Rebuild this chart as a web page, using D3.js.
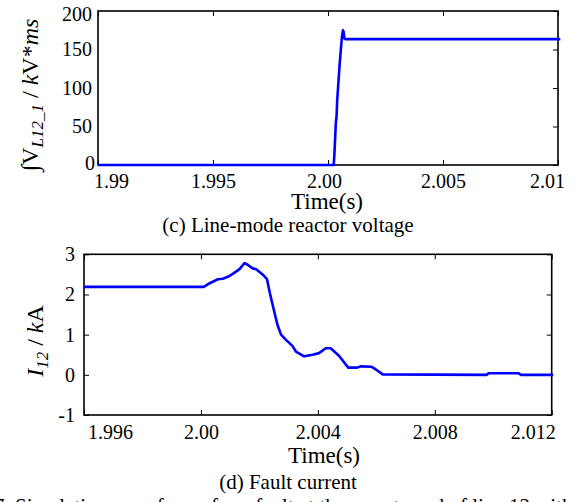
<!DOCTYPE html>
<html>
<head>
<meta charset="utf-8">
<script src="https://cdn.jsdelivr.net/npm/d3@7"></script>
<style>
  body { margin: 0; background: #fff; overflow: hidden; }
  svg { display: block; font-family: "Liberation Serif", "Times New Roman", serif; }
</style>
</head>
<body>
<svg id="fig" width="579" height="502"></svg>
<script>
// (c) integral of line-mode reactor voltage, kV*ms
const voltTime  = [1.99, 2.00025, 2.00028, 2.00034, 2.00037, 2.0004, 2.0005, 2.00057, 2.00061, 2.00065, 2.00068, 2.00071, 2.00076, 2.0101];
const voltValue = [0, 0, 15, 55, 62, 84, 128, 154, 167, 175, 173, 164.5, 163.5, 163.5];
const voltXTicks = [1.99, 1.995, 2.00, 2.005, 2.01];
const voltXLabels = ["1.99", "1.995", "2.00", "2.005", "2.01"];
const voltYTicks = [0, 50, 100, 150, 200];

// (d) fault current, kA
const currTime  = [1.996, 2.0001, 2.0003, 2.00058, 2.00075, 2.00098, 2.0012, 2.00132, 2.00149, 2.0016,
                   2.00177, 2.00189, 2.00211, 2.00226, 2.00236, 2.00251, 2.00262, 2.00274, 2.00291, 2.00313,
                   2.00325, 2.00353, 2.00382, 2.00404, 2.00427, 2.00444, 2.00473, 2.00504, 2.00535, 2.00546,
                   2.00584, 2.00597, 2.00622, 2.00978, 2.00984, 2.01086, 2.01095, 2.01205];
const currValue = [2.19, 2.19, 2.28, 2.38, 2.39, 2.46, 2.57, 2.63, 2.78, 2.74,
                   2.65, 2.63, 2.50, 2.38, 2.03, 1.57, 1.24, 1.0, 0.87, 0.72,
                   0.58, 0.46, 0.5, 0.54, 0.66, 0.66, 0.47, 0.18, 0.18, 0.21,
                   0.2, 0.14, 0.01, 0.0, 0.04, 0.04, 0.0, 0.0];
const currXTicks = [1.996, 2.000, 2.004, 2.008, 2.012];
const currXLabels = ["1.996", "2.00", "2.004", "2.008", "2.012"];
const currYTicks = [-1, 0, 1, 2, 3];

const svg = d3.select("#fig");

// drawPanel draws one boxed MATLAB-style plot.
// p holds the box, domains, ticks and label tweaks for a panel.
function drawPanel(p) {
    const x = d3.scaleLinear().domain(p.xDomain).range([p.left, p.right]);
    const y = d3.scaleLinear().domain(p.yDomain).range([p.bottom, p.top]);
    const g = svg.append("g");

    // bottom axis with labels, ticks pointing inward
    const gx = g.append("g")
        .attr("transform", `translate(0,${p.bottom})`)
        .call(d3.axisBottom(x).tickValues(p.xTicks)
            .tickFormat((d, i) => p.xLabels[i])
            .tickSizeInner(-5).tickSizeOuter(0).tickPadding(p.xPad));
    gx.selectAll("text").attr("x", d => p.xNudge[d] || 0);

    // left axis with labels (plain hyphen for negatives, as in the figure)
    const gy = g.append("g")
        .attr("transform", `translate(${p.left},0)`)
        .call(d3.axisLeft(y).tickValues(p.yTicks).tickFormat(d => String(d))
            .tickSizeInner(p.leftTicks ? -5 : 0).tickSizeOuter(0).tickPadding(p.yPad));
    gy.selectAll("text")
        .attr("x", d => -p.yPad + ((p.yNudge[d] || [0, 0])[0]))
        .attr("y", d => (p.yNudge[d] || [0, 0])[1]);

    // mirrored ticks on top and right
    g.append("g")
        .attr("transform", `translate(0,${p.top})`)
        .call(d3.axisTop(x).tickValues(p.xTicks).tickFormat("").tickSizeInner(-5).tickSizeOuter(0));
    g.append("g")
        .attr("transform", `translate(${p.right},0)`)
        .call(d3.axisRight(y).tickValues(p.yTicks).tickFormat("").tickSizeInner(-5).tickSizeOuter(0));

    g.selectAll(".domain").remove();
    g.selectAll("g").attr("font-family", null).attr("font-size", null);
    g.selectAll(".tick line").attr("stroke", "#000").attr("stroke-width", 1);
    g.selectAll(".tick text").attr("fill", "#000").style("font-size", "20px");

    // the box
    g.append("rect")
        .attr("x", p.left).attr("y", p.top)
        .attr("width", p.right - p.left).attr("height", p.bottom - p.top)
        .attr("fill", "none").attr("stroke", "#000").attr("stroke-width", 1.6);

    // the trace
    const line = d3.line().x((d, i) => x(p.t[i])).y(d => y(d));
    g.append("path")
        .datum(p.v)
        .attr("d", line)
        .attr("fill", "none")
        .attr("stroke", "#0000ff")
        .attr("stroke-width", 2.6)
        .attr("stroke-linejoin", "round");

    // x title and caption
    g.append("text")
        .attr("x", p.titleX).attr("y", p.titleY)
        .attr("text-anchor", "middle").style("font-size", "23px")
        .text("Time(s)");
    g.append("text")
        .attr("x", p.capX).attr("y", p.capY)
        .attr("text-anchor", "middle").style("font-size", "21px")
        .text(p.caption);

    // rotated y title made of pieces
    const yt = g.append("text")
        .attr("transform", `translate(${p.ylabX},${p.ylabY}) rotate(-90)`)
        .attr("text-anchor", "middle")
        .style("font-size", "24px");
    p.ylab.forEach(part => {
        const ts = yt.append("tspan").text(part.s);
        if (part.it) ts.style("font-style", "italic");
        if (part.sub) ts.style("font-size", "17px").attr("dy", part.dy);
        else if (part.dy) ts.attr("dy", part.dy);
    });
}

drawPanel({
    left: 98, right: 558, top: 11, bottom: 165,
    xDomain: [1.99, 2.01], yDomain: [0, 200],
    xTicks: voltXTicks, xLabels: voltXLabels, yTicks: voltYTicks,
    xPad: 9, yPad: 6, leftTicks: false,
    xNudge: {1.99: 13, 2.00: -4, 2.01: -11},
    yNudge: {0: [3, -2], 200: [0, 3]},
    t: voltTime, v: voltValue,
    titleX: 327, titleY: 209, capX: 288, capY: 232,
    caption: "(c) Line-mode reactor voltage",
    ylabX: 38, ylabY: 95,
    ylab: [
        {s: "\u222BV"},
        {s: "L12_1", it: true, sub: true, dy: 5},
        {s: " / ", dy: -5},
        {s: "k", it: true},
        {s: "V*"},
        {s: "ms", it: true}
    ]
});

drawPanel({
    left: 84, right: 551.7, top: 254.3, bottom: 415,
    xDomain: [1.996, 2.012], yDomain: [-1, 3],
    xTicks: currXTicks, xLabels: currXLabels, yTicks: currYTicks,
    xPad: 10, yPad: 9, leftTicks: true,
    xNudge: {1.996: 26, 2.012: -19},
    yNudge: {},
    t: currTime, v: currValue,
    titleX: 324, titleY: 463, capX: 288, capY: 489,
    caption: "(d) Fault current",
    ylabX: 43, ylabY: 341,
    ylab: [
        {s: "I", it: true},
        {s: "12", it: true, sub: true, dy: 5},
        {s: " / ", dy: -5},
        {s: "k", it: true},
        {s: "A"}
    ]
});

// figure caption, cut off by the page edge
svg.append("text")
    .attr("x", -6).attr("y", 512.5)
    .style("font-size", "21px")
    .text("7.  Simulation waveforms for a fault at the remote end of line 12 with the proposed (R");
</script>
</body>
</html>
